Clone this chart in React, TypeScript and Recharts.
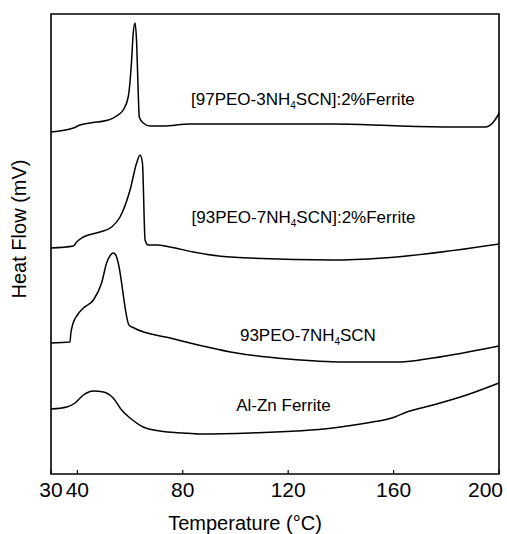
import React from 'react';
import { LineChart, Line, XAxis, YAxis, ReferenceArea, ReferenceDot } from 'recharts';

// DSC traces (heat flow in arbitrary offset units)
const ferriteTemp = [30, 36, 39.1, 42.3, 46.1, 49.9, 53.6, 56.8, 60, 65, 71.4, 80.2, 86.5, 105.5, 137, 149.8, 160.5, 165, 175, 187.7, 200];
const ferriteFlow = [65, 67, 71, 79, 83, 82, 76, 64, 56, 47, 43, 41, 40, 41, 46, 51, 57, 62, 69, 79, 91];

const peo93Temp = [30, 37.2, 37.5, 38.3, 40, 42.3, 46.1, 49.2, 51.1, 52.6, 53.6, 54.6, 55.5, 59.6, 61.5, 75.2, 100.4, 120, 140.9, 162.4, 175, 200];
const peo93Flow = [131, 132, 140, 150, 159, 166, 174, 191, 211, 219, 221, 219, 211, 149, 146, 136, 121, 115, 112, 112, 116, 128];

const peo93FerriteTemp = [30, 38.5, 39.7, 42.3, 48.6, 53, 56.2, 60, 62.5, 63.8, 64.7, 65.7, 66.9, 70, 75.2, 84, 98, 137, 156, 200];
const peo93FerriteFlow = [226, 228, 232, 237, 242, 247, 257, 284, 311, 319, 311, 234, 229, 229, 227, 222, 217, 214, 216, 230];

const peo97FerriteTemp = [30, 38.5, 41, 44.8, 51.8, 54.9, 57.4, 59.3, 60.6, 61.2, 61.9, 62.5, 63.1, 63.5, 65, 67.6, 72.6, 82.7, 110, 137, 162.4, 185, 194.7, 197.9, 199.2, 200];
const peo97FerriteFlow = [342, 346, 349, 351, 354, 358, 364, 377, 414, 441, 451, 431, 381, 357, 351, 348, 348, 350, 350, 350, 348, 347, 347, 352, 357, 361];

const tempTicks = [30, 40, 80, 120, 160, 200];

// label text split as [before, subscript, after]
const seriesLabels = [
  { parts: ['[97PEO-3NH', '4', 'SCN]:2%Ferrite'], t: 125.6, hf: 375 },
  { parts: ['[93PEO-7NH', '4', 'SCN]:2%Ferrite'], t: 125.8, hf: 257 },
  { parts: ['93PEO-7NH', '4', 'SCN'], t: 127.5, hf: 139 },
  { parts: ['Al-Zn Ferrite', '', ''], t: 118.2, hf: 69 },
];

const toPoints = (temps: number[], flows: number[]) => temps.map((t, i) => ({ t, hf: flows[i] }));

const series = [
  toPoints(ferriteTemp, ferriteFlow),
  toPoints(peo93Temp, peo93Flow),
  toPoints(peo93FerriteTemp, peo93FerriteFlow),
  toPoints(peo97FerriteTemp, peo97FerriteFlow),
];

const FONT = '"Liberation Sans", Arial, sans-serif';

const TempTick = (props: any) => {
  const { x, y, payload } = props;
  const last = payload.value === 200;
  return (
    <g>
      <line x1={x} y1={y} x2={x} y2={y - 4} stroke="#000" strokeWidth={1.2} />
      <text x={last ? x + 4 : x} y={y + 23} textAnchor={last ? 'end' : 'middle'} fontSize={21} fontFamily={FONT} fill="#000">
        {payload.value}
      </text>
    </g>
  );
};

const SeriesLabel = ({ viewBox, parts }: any) => {
  const [a, sub, b] = parts;
  return (
    <text x={viewBox.x} y={viewBox.y + 6} textAnchor="middle" fontSize={17} fontFamily={FONT} fill="#000">
      {a}
      {sub && <tspan fontSize={10} dy={4}>{sub}</tspan>}
      {sub && <tspan dy={-4}>{b}</tspan>}
    </text>
  );
};

export default function App() {
  return (
    <div style={{ position: 'absolute', left: 0, top: 0, background: '#fff' }}>
      <LineChart width={507} height={534} margin={{ top: 14, right: 8, bottom: 0, left: 0 }}>
        <XAxis
          type="number"
          dataKey="t"
          domain={[30, 200]}
          ticks={tempTicks}
          interval={0}
          tickSize={0}
          tickMargin={0}
          tickLine={false}
          axisLine={false}
          height={60}
          tick={<TempTick />}
          label={{
            content: ({ viewBox }: any) => (
              <text x={viewBox.x + viewBox.width / 2 - 30} y={viewBox.y + 56} textAnchor="middle" fontSize={20} fontFamily={FONT} fill="#000">
                Temperature (°C)
              </text>
            ),
          }}
        />
        <YAxis
          type="number"
          dataKey="hf"
          domain={[0, 460]}
          width={51}
          tick={false}
          tickLine={false}
          axisLine={false}
          label={{
            content: ({ viewBox }: any) => {
              const cx = viewBox.x + 19;
              const cy = viewBox.y + viewBox.height / 2 - 15;
              return (
                <text x={cx} y={cy} transform={`rotate(-90 ${cx} ${cy})`} textAnchor="middle" dominantBaseline="central" fontSize={20} fontFamily={FONT} fill="#000">
                  Heat Flow (mV)
                </text>
              );
            },
          }}
        />
        <ReferenceArea x1={30} x2={200} y1={0} y2={460} fill="none" stroke="#000" strokeWidth={1.6} />
        {series.map((pts, i) => (
          <Line
            key={i}
            data={pts}
            dataKey="hf"
            type="monotone"
            stroke="#000"
            strokeWidth={1.5}
            dot={false}
            activeDot={false}
            isAnimationActive={false}
          />
        ))}
        {seriesLabels.map((l, i) => (
          <ReferenceDot
            key={i}
            x={l.t}
            y={l.hf}
            r={0}
            fill="none"
            stroke="none"
            label={{ content: (p: any) => <SeriesLabel viewBox={p.viewBox} parts={l.parts} /> }}
          />
        ))}
      </LineChart>
    </div>
  );
}
